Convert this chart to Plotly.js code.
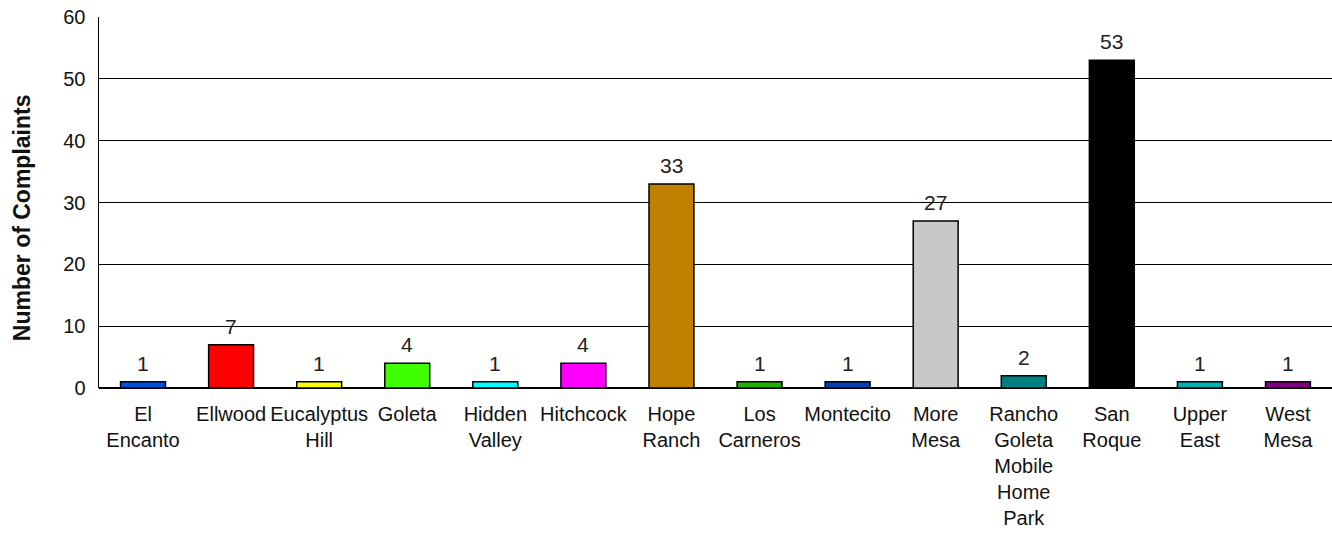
<!DOCTYPE html>
<html>
<head>
<meta charset="utf-8">
<script src="https://cdn.plot.ly/plotly-3.0.1.min.js"></script>
<style>
html,body{margin:0;padding:0;background:#fff;}
#chart{width:1332px;height:533px;}
</style>
</head>
<body>
<div id="chart"></div>
<script>
var categories = ["El<br>Encanto", "Ellwood", "Eucalyptus<br>Hill", "Goleta", "Hidden<br>Valley", "Hitchcock", "Hope<br>Ranch", "Los<br>Carneros", "Montecito", "More<br>Mesa", "Rancho<br>Goleta<br>Mobile<br>Home<br>Park", "San<br>Roque", "Upper<br>East", "West<br>Mesa"];
var complaints = [1, 7, 1, 4, 1, 4, 33, 1, 1, 27, 2, 53, 1, 1];
var barColors = ["#0050e0", "#ff0000", "#ffff00", "#40ff00", "#00ffff", "#ff00ff", "#c08000", "#20b000", "#0040b0", "#c8c8c8", "#008080", "#000000", "#00b0b0", "#800080"];
var yTicks = [0, 10, 20, 30, 40, 50, 60];
var yAxisTitle = 'Number of Complaints';

var FONT = 'Liberation Sans, Arial, sans-serif';

var trace = {
  type: 'bar',
  x: categories,
  y: complaints,
  marker: {color: barColors, line: {color: '#000', width: 1.5}},
  cliponaxis: false,
  hoverinfo: 'none'
};

var annotations = categories.map(function (c, i) {
  return {
    x: c, y: complaints[i], xref: 'x', yref: 'y',
    text: String(complaints[i]), showarrow: false,
    yanchor: 'bottom', yshift: 5,
    font: {family: FONT, size: 21, color: '#222'}
  };
});

annotations.push({
  xref: 'paper', yref: 'paper', x: -0.0624, y: 0.458,
  xanchor: 'center', yanchor: 'middle', showarrow: false,
  textangle: -90, text: '<b>' + yAxisTitle + '</b>',
  font: {family: FONT, size: 23, color: '#111'}
});

var layout = {
  width: 1332, height: 533,
  margin: {l: 99, r: 0, t: 17, b: 145},
  paper_bgcolor: '#fff', plot_bgcolor: '#fff',
  bargap: 0.49,
  showlegend: false,
  font: {family: FONT, color: '#111'},
  annotations: annotations,
  xaxis: {
    type: 'category',
    tickfont: {size: 20, color: '#111'},
    tickangle: 0,
    showline: false,
    showgrid: false,
    ticks: '',
    ticklabelstandoff: 12,
    automargin: false
  },
  yaxis: {
    range: [0, 60],
    tickvals: yTicks,
    ticktext: yTicks.map(String),
    tickfont: {size: 20, color: '#111'},
    showline: true, linecolor: '#000', linewidth: 1.5,
    showgrid: true, gridcolor: '#000', gridwidth: 1,
    zeroline: true, zerolinecolor: '#000', zerolinewidth: 1.5,
    ticks: '',
    ticklen: 0,
    ticklabelstandoff: 8,
    automargin: false
  }
};

Plotly.newPlot('chart', [trace], layout, {staticPlot: true, displayModeBar: false});
</script>
</body>
</html>
